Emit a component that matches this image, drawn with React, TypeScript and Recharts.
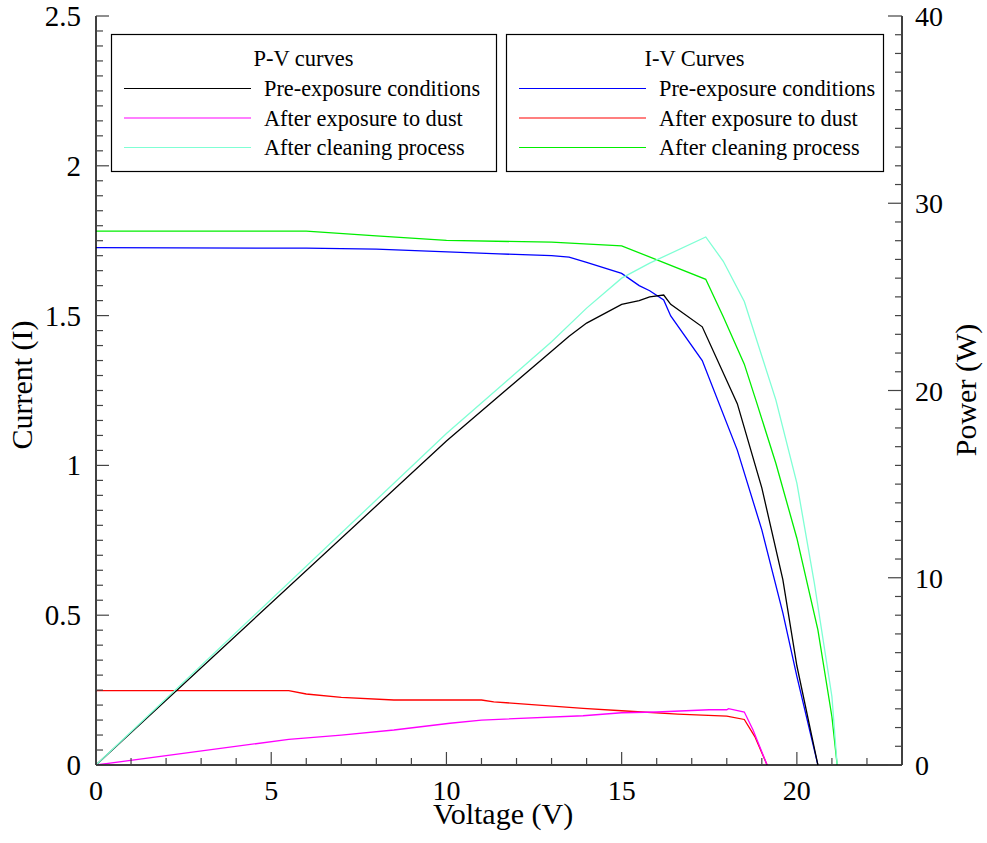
import { Legend, Line, LineChart, XAxis, YAxis } from 'recharts'

// P-V curves (power, W) against voltage (V)
const pvPreV = [0, 10, 13, 13.5, 14, 15, 15.5, 15.8, 16.2, 16.4, 17.3, 18.3, 19.0, 19.6, 20.0, 20.6]
const pvPreP = [0, 17.3, 22.1, 22.9, 23.6, 24.6, 24.8, 25.0, 25.1, 24.6, 23.4, 19.3, 14.8, 9.9, 5.3, 0]

const pvDustV = [0, 5.5, 7, 8.5, 10.1, 11, 13.9, 15, 16, 17.5, 18, 18.05, 18.5, 18.75, 19.15]
const pvDustP = [0, 1.37, 1.6, 1.87, 2.23, 2.4, 2.63, 2.79, 2.83, 2.95, 2.95, 3.01, 2.83, 1.87, 0]

const pvCleanV = [0, 10, 13, 14, 15, 15.8, 17.4, 17.9, 18.5, 19.4, 20, 20.5, 21, 21.15]
const pvCleanP = [0, 17.7, 22.6, 24.4, 26.0, 26.8, 28.2, 26.9, 24.75, 19.5, 15.05, 9.7, 3.65, 0]

// I-V curves (current, A) against voltage (V)
const ivPreV = [0, 6, 8, 11.5, 13, 13.5, 14, 15, 15.5, 15.8, 16.2, 16.4, 17.3, 18.3, 19, 19.6, 20, 20.6]
const ivPreI = [1.727, 1.725, 1.722, 1.706, 1.7, 1.695, 1.678, 1.641, 1.6, 1.583, 1.552, 1.499, 1.35, 1.051, 0.785, 0.508, 0.296, 0]

const ivDustV = [0, 5.5, 6, 7, 8.5, 11, 11.35, 13.9, 15, 16.6, 18, 18.5, 18.8, 19.15]
const ivDustI = [0.248, 0.248, 0.237, 0.226, 0.217, 0.217, 0.211, 0.189, 0.181, 0.17, 0.163, 0.152, 0.095, 0]

const ivCleanV = [0, 6, 8, 10, 13, 15, 17.4, 17.9, 18.5, 18.83, 19.4, 20, 20.6, 21, 21.15]
const ivCleanI = [1.782, 1.782, 1.766, 1.751, 1.745, 1.733, 1.621, 1.496, 1.338, 1.218, 1.007, 0.757, 0.451, 0.161, 0]

// axis ticks
const xMajor = [0, 5, 10, 15, 20]
const iMajor = [0, 0.5, 1, 1.5, 2, 2.5]
const pMajor = [0, 10, 20, 30, 40]
const xTicks = Array.from({ length: 24 }, (_, i) => i)
const iTicks = Array.from({ length: 51 }, (_, i) => i / 20)
const pTicks = Array.from({ length: 41 }, (_, i) => i)

const zip = (v: number[], y: number[]) => v.map((x, i) => ({ v: x, y: y[i] }))

const pvSeries = [
  { name: 'Pre-exposure conditions', color: '#000000', data: zip(pvPreV, pvPreP) },
  { name: 'After exposure to dust', color: '#ff00ff', data: zip(pvDustV, pvDustP) },
  { name: 'After cleaning process', color: '#7fffd4', data: zip(pvCleanV, pvCleanP) },
]
const ivSeries = [
  { name: 'Pre-exposure conditions', color: '#0000ff', data: zip(ivPreV, ivPreI) },
  { name: 'After exposure to dust', color: '#ff0000', data: zip(ivDustV, ivDustI) },
  { name: 'After cleaning process', color: '#00ee00', data: zip(ivCleanV, ivCleanI) },
]

const FONT = '"Liberation Serif", "Times New Roman", serif'
const TICK_COLOR = '#444'
const isMajor = (v: number, list: number[]) => list.some((m) => Math.abs(m - v) < 1e-6)

const fmt = (v: number) => String(Math.round(v * 100) / 100)

function BottomTick(props: any) {
  const { x, y, payload } = props
  const major = isMajor(payload.value, xMajor)
  return (
    <g>
      <line x1={x} x2={x} y1={y} y2={y - (major ? 13 : 7)} stroke={TICK_COLOR} strokeWidth={1.2} />
      {major && (
        <text x={x} y={y + 35} textAnchor="middle" fontFamily={FONT} fontSize={28} fill="#000">
          {fmt(payload.value)}
        </text>
      )}
    </g>
  )
}

function TopTick(props: any) {
  const { x, y, payload } = props
  const major = isMajor(payload.value, xMajor)
  return <line x1={x} x2={x} y1={y} y2={y + (major ? 13 : 7)} stroke={TICK_COLOR} strokeWidth={1.2} />
}

function LeftTick(props: any) {
  const { x, y, payload } = props
  const major = isMajor(payload.value, iMajor)
  return (
    <g>
      <line x1={x} x2={x + (major ? 13 : 7)} y1={y} y2={y} stroke={TICK_COLOR} strokeWidth={1.2} />
      {major && (
        <text x={x - 15} y={y + 10} textAnchor="end" fontFamily={FONT} fontSize={29} fill="#000">
          {fmt(payload.value)}
        </text>
      )}
    </g>
  )
}

function RightTick(props: any) {
  const { x, y, payload } = props
  const major = isMajor(payload.value, pMajor)
  return (
    <g>
      <line x1={x} x2={x - (major ? 14 : 7)} y1={y} y2={y} stroke={TICK_COLOR} strokeWidth={1.2} />
      {major && (
        <text x={x + 13} y={y + 10} textAnchor="start" fontFamily={FONT} fontSize={28} fill="#000">
          {fmt(payload.value)}
        </text>
      )}
    </g>
  )
}

function LegendBox({ x, w, title, items }: { x: number; w: number; title: string; items: typeof pvSeries }) {
  return (
    <g>
      <rect x={x + 0.5} y={34.5} width={w} height={137} fill="#fff" stroke="#000" strokeWidth={1.2} />
      <text x={x + w / 2} y={66} textAnchor="middle" fontFamily={FONT} fontSize={22.5}>{title}</text>
      {items.map((s, i) => {
        const ly = 88.5 + 29.5 * i
        return (
          <g key={title + s.name}>
            <path d={`M${x + 13},${ly}H${x + 140}`} fill="none" style={{ stroke: s.color, strokeWidth: 1.2 }} />
            <text x={x + 153} y={96 + 29.5 * i} fontFamily={FONT} fontSize={22.3}>{s.name}</text>
          </g>
        )
      })}
    </g>
  )
}

function LegendPanel() {
  return (
    <svg width={987} height={843} style={{ position: 'absolute', left: 0, top: 0 }}>
      <LegendBox x={111} w={385} title="P-V curves" items={pvSeries} />
      <LegendBox x={506} w={377} title="I-V Curves" items={ivSeries} />
    </svg>
  )
}

export default function App() {
  return (
    <div style={{ position: 'absolute', left: 0, top: 0, width: 987, height: 843, background: '#fff' }}>
      <LineChart width={987} height={843} margin={{ top: 16, right: 25, bottom: 38, left: 36 }}>
        <XAxis
          dataKey="v"
          type="number"
          domain={[0, 23]}
          ticks={xTicks}
          interval={0}
          height={40}
          tickSize={0}
          tickMargin={0}
          tick={BottomTick}
          axisLine={{ stroke: '#000', strokeWidth: 1.5 }}
          allowDataOverflow
          label={{
            content: () => (
              <text x={503} y={824} textAnchor="middle" fontFamily={FONT} fontSize={30}>Voltage (V)</text>
            ),
          }}
        />
        <XAxis
          xAxisId="top"
          orientation="top"
          dataKey="v"
          type="number"
          domain={[0, 23]}
          ticks={xTicks}
          interval={0}
          height={0}
          tickSize={0}
          tickMargin={0}
          tick={TopTick}
          axisLine={{ stroke: '#000', strokeWidth: 1.5 }}
          allowDataOverflow
        />
        <YAxis
          yAxisId="I"
          type="number"
          domain={[0, 2.5]}
          ticks={iTicks}
          interval={0}
          width={60}
          tickSize={0}
          tickMargin={0}
          tick={LeftTick}
          axisLine={{ stroke: '#000', strokeWidth: 1.5 }}
          allowDataOverflow
          label={{
            content: () => (
              <text x={32} y={385} transform="rotate(-90 32 385)" textAnchor="middle" fontFamily={FONT} fontSize={30}>
                Current (I)
              </text>
            ),
          }}
        />
        <YAxis
          yAxisId="P"
          orientation="right"
          type="number"
          domain={[0, 40]}
          ticks={pTicks}
          interval={0}
          width={60}
          tickSize={0}
          tickMargin={0}
          tick={RightTick}
          axisLine={{ stroke: '#000', strokeWidth: 1.5 }}
          allowDataOverflow
          label={{
            content: () => (
              <text x={976} y={390} transform="rotate(-90 976 390)" textAnchor="middle" fontFamily={FONT} fontSize={30}>
                Power (W)
              </text>
            ),
          }}
        />
        {ivSeries.map((s) => (
          <Line
            key={'iv' + s.name}
            yAxisId="I"
            data={s.data}
            dataKey="y"
            name={s.name}
            type="linear"
            stroke={s.color}
            strokeWidth={1.3}
            dot={false}
            activeDot={false}
            isAnimationActive={false}
          />
        ))}
        {pvSeries.map((s) => (
          <Line
            key={'pv' + s.name}
            yAxisId="P"
            data={s.data}
            dataKey="y"
            name={s.name}
            type="linear"
            stroke={s.color}
            strokeWidth={1.3}
            dot={false}
            activeDot={false}
            isAnimationActive={false}
          />
        ))}
        <Legend
          layout="horizontal"
          verticalAlign="middle"
          align="center"
          wrapperStyle={{ left: 0, top: 0, width: 987, height: 843, pointerEvents: 'none' }}
          content={() => <LegendPanel />}
        />
      </LineChart>
    </div>
  )
}
